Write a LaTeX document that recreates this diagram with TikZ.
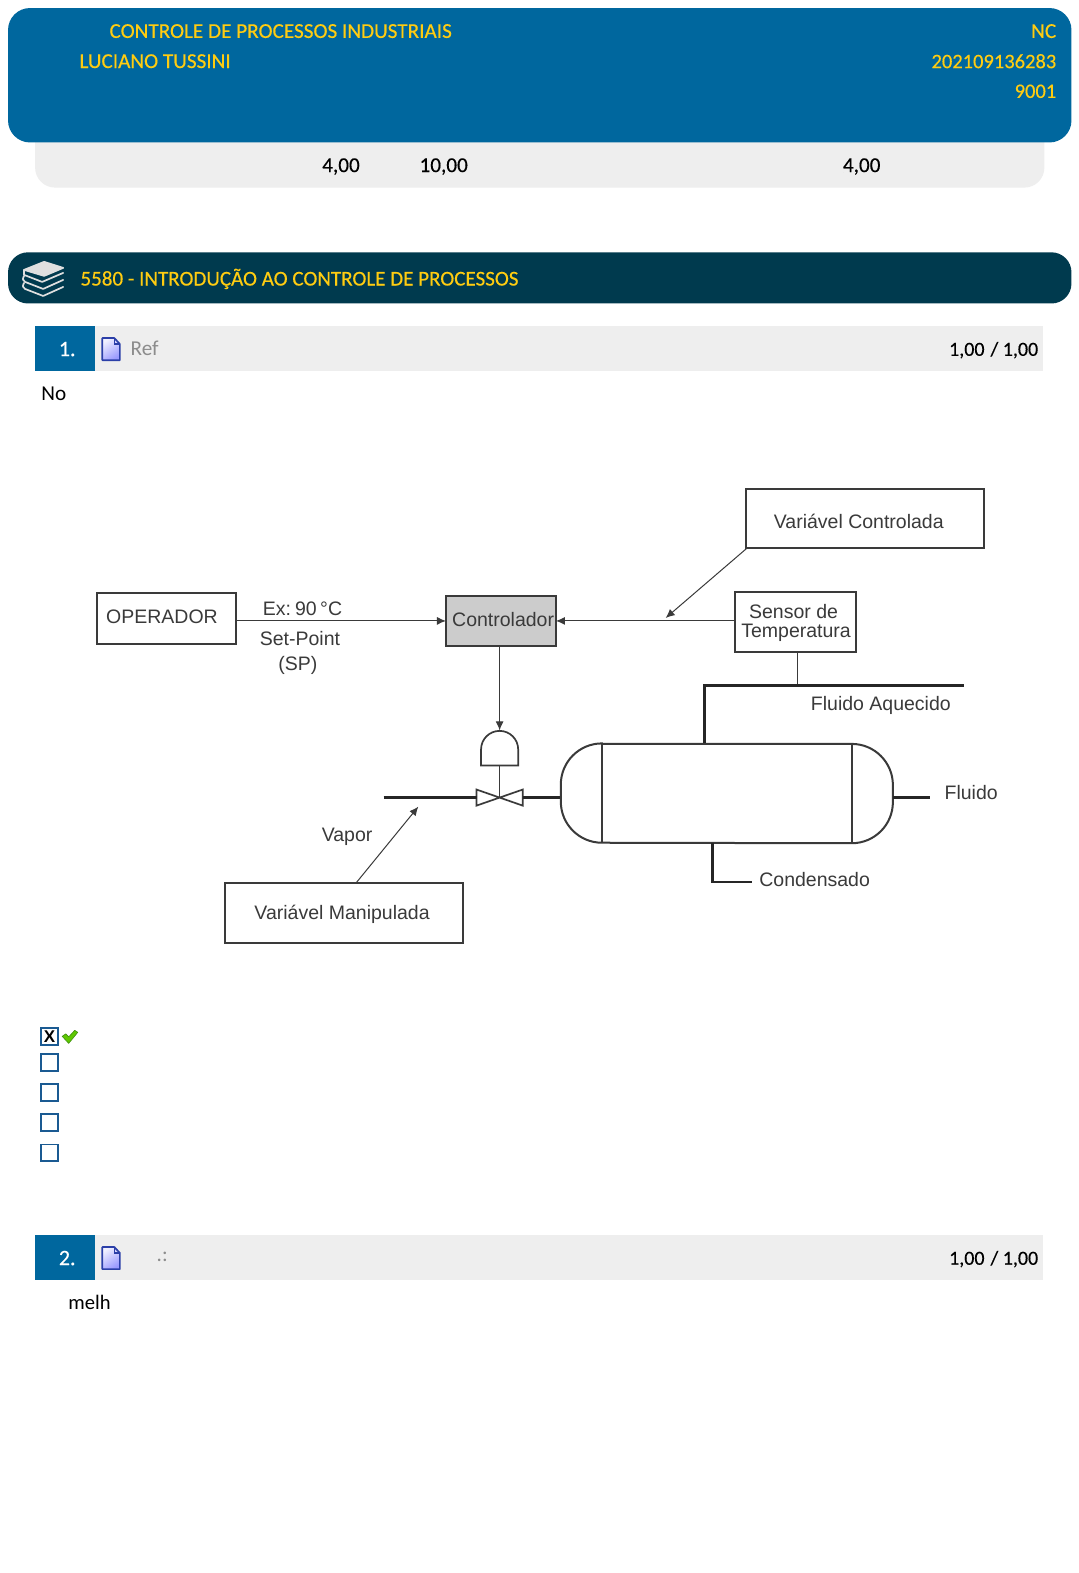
\documentclass[tikz,border=0pt]{standalone}
\usepackage{fontspec}
\setmainfont{Carlito}
\newfontfamily\heavy[FakeBold=0.35]{Carlito}
\newfontfamily\diag{Liberation Sans}
\usetikzlibrary{arrows.meta}
\definecolor{hblue}{HTML}{00679E}
\definecolor{hdark}{HTML}{003A4E}
\definecolor{hyel}{HTML}{FFCC11}
\definecolor{lgray}{HTML}{EEEEEE}
\definecolor{dline}{HTML}{3A3A3A}
\definecolor{cbblue}{HTML}{1A5A92}
\definecolor{docline}{HTML}{2B3FA8}
\definecolor{lime}{HTML}{5FC800}
\definecolor{limed}{HTML}{3F8F10}
\tikzset{
 x=1.00325bp,y=-1.00325bp,
 txt/.style={inner sep=0pt,font=\fontsize{21.2bp}{21.2bp}\selectfont},
 ytxt/.style={inner sep=0pt,text=hyel,font=\heavy\fontsize{21.2bp}{21.2bp}\selectfont},
 ynum/.style={ytxt,font=\heavy\fontsize{20.5bp}{20.5bp}\selectfont},
 btxt/.style={inner sep=0pt,text=black,font=\heavy\fontsize{21.2bp}{21.2bp}\selectfont},
 stxt/.style={inner sep=0pt,text=black,font=\heavy\fontsize{20bp}{20bp}\selectfont},
 dtxt/.style={inner sep=0pt,text=dline,font=\diag\fontsize{19.5bp}{22bp}\selectfont,align=center},
 dbox/.style={draw=dline,line width=2.1bp,inner sep=0pt,outer sep=0pt},
 thin line/.style={draw=dline,line width=1bp},
 mid line/.style={draw=dline,line width=1.7bp},
 pipe/.style={draw=black!85,line width=2.7bp},
 arr/.style={thin line,-{Latex[length=9bp,width=8bp]}},
 cb/.style={draw=cbblue,line width=1.9bp,fill=white,minimum size=16.5bp,inner sep=0pt},
 qnum/.style={fill=hblue,minimum width=59.6bp,minimum height=45.1bp,inner sep=0pt,outer sep=0pt},
 qlab/.style={text=white,inner sep=0pt,font=\heavy\fontsize{22bp}{22bp}\selectfont},
 qbar/.style={fill=lgray,minimum width=1008.3bp,minimum height=45.1bp,inner sep=0pt,outer sep=0pt},
}
\newcommand{\docicon}[2]{%
 \shade[top color=blue!6!white,bottom color=blue!40!white,shading angle=35] (#1,#2) -- ++(12,0) -- ++(5.5,6) -- ++(0,16) -- ++(-17.5,0) -- cycle;
 \draw[draw=docline,line width=1.7bp,line join=round] (#1,#2) -- ++(12,0) -- ++(5.5,6) -- ++(0,16) -- ++(-17.5,0) -- cycle;
 \draw[draw=docline,line width=1.3bp] (#1+12,#2) -- ++(0,6) -- ++(5.5,0);
}
\begin{document}
\begin{tikzpicture}
\useasboundingbox (0bp,0bp) rectangle (1079bp,-1573bp);
\fill[white] (0bp,0bp) rectangle (1079bp,-1573bp);
% header
\fill[lgray,rounded corners=20bp] (35,120) rectangle (1041,187);
\fill[hblue,rounded corners=22bp] (8,8) rectangle (1068,142);
\node[ytxt,anchor=west] (t1) at (109,31) {CONTROLE DE PROCESSOS INDUSTRIAIS};
\node[ytxt,anchor=west] (t2) at (79,61) {LUCIANO TUSSINI};
\node[ytxt,anchor=east] (t3) at (1053,31) {NC};
\node[ynum,anchor=east] (t4) at (1053,61) {202109136283};
\node[ynum,anchor=east] (t5) at (1053,91) {9001};
\node[btxt,anchor=west] (g1) at (321,166) {4,00};
\node[btxt,anchor=west] (g2) at (418,166) {10,00};
\node[btxt,anchor=west] (g3) at (840,166) {4,00};
% section bar
\fill[hdark,rounded corners=20bp] (8,251.5) rectangle (1068,302.5);
\node[ytxt,anchor=west,font=\heavy\fontsize{21.05bp}{21.05bp}\selectfont] (sec) at (80,278) {5580 - INTRODUÇÃO AO CONTROLE DE PROCESSOS};
\begin{scope}[draw=white!75!gray,line width=1.7bp,line join=round,line cap=round]
 \draw[fill=white!75!gray] (24,269) -- (44,261) -- (63,267) -- (44,275) -- cycle;
 \draw (24,269) -- (24,274) -- (42,281) -- (63,272);
 \draw (24,275) .. controls (22,278) and (23,280) .. (25,281) -- (43,288) -- (63,279);
 \draw (24,282) .. controls (22,285) and (23,287) .. (25,288) -- (43,295) -- (63,286);
\end{scope}
% question 1
\node[qbar,anchor=north west] (q1bar) at (35,325) {};
\node[qnum,anchor=north west] (q1) at (35,325) {};
\node[qlab] at (67,348) {1.};
\docicon{102}{337}
\node[txt,anchor=west,text=black!45] (ref) at (130,347) {Ref};
\node[stxt,anchor=east] (s1) at (1035,349) {1,00\hspace*{6bp}/\hspace*{4.5bp}1,00};
\node[txt,anchor=west] (no) at (41,392) {No};
% diagram
\node[dbox,anchor=north west,minimum width=139bp,minimum height=51bp] (op) at (96.5,591.5) {};
\node[dtxt] at (161.5,615) {OPERADOR};
\node[dbox,anchor=north west,minimum width=110bp,minimum height=50bp,fill=black!20] (ctl) at (444.5,594) {};
\node[dtxt] at (501.5,618) {Controlador};
\node[dbox,anchor=north west,minimum width=121bp,minimum height=60bp] (sen) at (733,590.5) {};
\node[dtxt,font=\diag\fontsize{19.5bp}{19.5bp}\selectfont] at (793.5,621) {Sensor de\hspace*{5bp}\\[-0.5bp]Temperatura};
\node[dbox,anchor=north west,minimum width=238bp,minimum height=59bp] (vc) at (744,487.5) {};
\node[dtxt] at (856,520) {Variável Controlada};
\node[dbox,anchor=north west,minimum width=238bp,minimum height=60bp] (vm) at (224.5,880.5) {};
\node[dtxt] at (341,911) {Variável Manipulada};
\node[dtxt] (ex) at (301.5,607) {Ex:\hspace*{4bp}90\hspace*{3.5bp}°C};
\node[dtxt] (sp) at (299,636) {Set-Point};
\node[dtxt] (spb) at (297,663) {(SP)};
\node[dtxt] (fa) at (878,703) {Fluido Aquecido};
\node[dtxt] (fl) at (968,790) {Fluido};
\node[dtxt] (co) at (812,877) {Condensado};
\node[dtxt] (va) at (346,834) {Vapor};
\coordinate (senmid) at (794.5,650);
\coordinate (vctop) at (663.5,616);
\coordinate (vmtip) at (417,804);
\coordinate (vmbot) at (355,880);
\coordinate (vcbot) at (745,546);
\coordinate (act) at (498,728);
\coordinate (valve) at (498,795);
\draw[arr] (op.east |- ctl.west) -- (ctl.west);
\draw[arr] (sen.west |- ctl.east) -- (ctl.east);
\draw[arr] (vcbot) -- (vctop);
\draw[arr] (vmbot) -- (vmtip);
\draw[arr] (ctl.south -| act) -- (act);
\draw[thin line,line width=1.1bp] (senmid) -- (794.5,683);
% actuator and valve
\draw[mid line,line join=miter] (479.5,763) -- (479.5,747) arc[start angle=180,end angle=360,radius=18.5] -- (516.5,763) -- cycle;
\draw[thin line,line width=1.2bp] (498,763) -- (valve);
\draw[mid line,line join=miter] (475,787) -- (521,803) -- (521,787) -- (475,803) -- cycle;
\draw[pipe] (382.5,795) -- (475,795);
\draw[pipe] (521,795) -- (559,795);
% tank
\draw[mid line,line width=2bp] (600,741.5) -- (849,741.5) arc[start angle=-90,end angle=0,radius=41] -- ++(0,17) arc[start angle=0,end angle=90,radius=41] -- (600,840) arc[start angle=90,end angle=180,radius=41] -- ++(0,-17) arc[start angle=180,end angle=270,radius=41] -- cycle;
\draw[mid line,line width=2bp] (600,741.5) -- (600,840);
\draw[mid line,line width=2bp] (849,741.5) -- (849,840);
\draw[pipe] (702.5,741) -- (702.5,683) -- (961,683);
\draw[pipe] (890,795) -- (927,795);
\draw[pipe] (710.5,840) -- (710.5,879) -- (750,879);
% checkboxes
\node[cb] (c1) at (49.5,1033) {};
\node[font=\diag\bfseries\fontsize{17bp}{17bp}\selectfont,inner sep=0pt] at (c1.center) {X};
\draw[draw=limed,fill=lime,line width=0.6bp,line join=round] (62,1033) -- (65.5,1030.5) -- (68.5,1033.5) -- (74.5,1027) -- (77.5,1029) -- (68.5,1040) -- cycle;
\node[cb] (c2) at (49.5,1059) {};
\node[cb] (c3) at (49.5,1089) {};
\node[cb] (c4) at (49.5,1119) {};
\node[cb] (c5) at (49.5,1149) {};
% question 2
\node[qbar,anchor=north west] (q2bar) at (35,1231) {};
\node[qnum,anchor=north west] (q2) at (35,1231) {};
\node[qlab] at (67,1254) {2.};
\docicon{102}{1243}
\node[txt,anchor=west,text=black!45] (dots) at (156,1253) {.:};
\node[stxt,anchor=east] (s2) at (1035,1255) {1,00\hspace*{6bp}/\hspace*{4.5bp}1,00};
\node[txt,anchor=west,font=\fontsize{20.6bp}{20.6bp}\selectfont] (melh) at (68,1298) {melh};
\end{tikzpicture}
\end{document}
